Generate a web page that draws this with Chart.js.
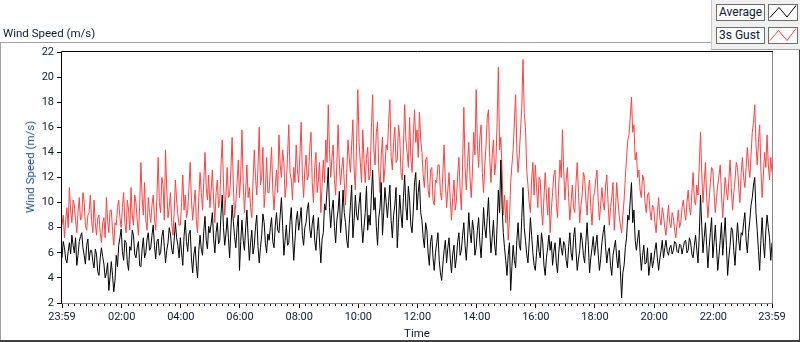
<!DOCTYPE html>
<html>
<head>
<meta charset="utf-8">
<title>Wind Speed</title>
<script src="https://cdn.jsdelivr.net/npm/chart.js@4.4.1/dist/chart.umd.min.js"></script>
<style>
  html, body { margin: 0; padding: 0; background: #fff; }
  #wrap { position: relative; width: 800px; height: 342px; overflow: hidden; font-family: Roboto, "Noto Sans", sans-serif; }
  #wrap canvas { position: absolute; left: 0; top: 0; }
  .chart-title { position: absolute; left: 3px; top: 26px; font-size: 11.5px; line-height: 14px; color: #0d1b33; }
  .y-title { position: absolute; left: 29.5px; top: 167px; font-size: 11.5px; line-height: 14px; color: #1f4f8f;
             white-space: nowrap; transform: translate(-50%, -50%) rotate(-90deg); }
  .rule { position: absolute; }
  .legend { position: absolute; left: 711px; top: 0; width: 89px; height: 50px; background: #f0f0f0;
            border-left: 1px solid #c8c8c8; border-bottom: 1px solid #a0a0a0; box-sizing: border-box; }
  .lg-text { position: absolute; left: 4px; width: 49px; height: 17px; box-sizing: border-box;
             border: 1px solid #6e6e6e; background: #fdfdfd; font-size: 12px; line-height: 15px;
             padding-left: 2px; color: #0d1b33; white-space: nowrap; }
  .lg-icon { position: absolute; left: 56px; width: 30px; height: 17px; box-sizing: border-box;
             border: 1px solid #6e6e6e; background: #fff; }
  .lg-icon svg { position: absolute; left: 0; top: 0; }
</style>
</head>
<body>
<div id="wrap">
  <canvas id="windChart" width="800" height="342"></canvas>
  <div class="chart-title">Wind Speed (m/s)</div>
  <div class="y-title">Wind Speed (m/s)</div>
  <div class="rule" style="left:0; top:42px; width:711px; height:1px; background:#a0a0a0;"></div>
  <div class="rule" style="left:0; top:42px; width:1px; height:300px; background:#a0a0a0;"></div>
  <div class="rule" style="left:0; top:340px; width:800px; height:2px; background:#404040;"></div>
  <div class="rule" style="left:799px; top:50px; width:1px; height:292px; background:#404040;"></div>
  <div class="legend">
    <div class="lg-text" style="top:4px;">Average</div>
    <div class="lg-icon" style="top:4px;">
      <svg width="28" height="15"><polyline points="1,12.5 10,2.5 18,12 27,0.5" fill="none" stroke="#000" stroke-width="1"/></svg>
    </div>
    <div class="lg-text" style="top:27px;">3s Gust</div>
    <div class="lg-icon" style="top:27px;">
      <svg width="28" height="15"><polyline points="1,12.5 9.5,2.5 18,12.5 27,0.5" fill="none" stroke="#ff4040" stroke-width="1"/></svg>
    </div>
  </div>
</div>

<script>
// ─── Data (one value every 2.5 minutes, starting 23:59) ──────────

const STEP_MIN = 2.5;

// Average wind speed, m/s – one row per hour
const avgSpeed = [
  5.6, 6.9, 6.4, 5.5, 5.2, 6.1, 6.8, 5.9, 7.4, 6.6, 6.0, 7.2, 5.0, 5.8, 6.9, 7.3, 7.6, 6.4, 5.8, 5.1, 6.6, 7.1, 5.4, 6.2,
  6.2, 5.3, 4.8, 6.3, 5.9, 4.5, 4.2, 5.6, 6.4, 5.7, 5.1, 4.0, 4.4, 5.2, 3.0, 4.1, 5.3, 4.2, 2.9, 3.8, 5.8, 4.9, 6.6, 7.2,
  7.9, 6.1, 5.4, 7.0, 6.8, 5.2, 4.6, 6.5, 6.2, 7.8, 7.4, 5.9, 5.6, 6.4, 6.9, 5.0, 4.9, 6.3, 7.2, 5.6, 6.0, 7.1, 7.6, 6.2,
  6.4, 7.4, 8.2, 6.6, 5.5, 6.9, 7.1, 5.8, 6.0, 7.3, 7.8, 6.5, 5.2, 6.2, 6.8, 8.0, 7.5, 6.3, 5.9, 7.0, 8.4, 7.2, 6.6, 5.6,
  7.2, 6.0, 5.0, 7.3, 8.6, 6.9, 6.1, 7.5, 7.8, 5.6, 4.4, 5.9, 6.5, 5.0, 4.0, 6.2, 7.4, 6.3, 5.8, 7.7, 8.9, 7.0, 6.3, 8.1,
  7.6, 8.3, 9.2, 7.1, 6.0, 7.6, 8.4, 6.7, 7.0, 9.1, 10.6, 8.0, 6.6, 7.5, 8.8, 7.2, 5.6, 7.8, 9.8, 8.5, 7.3, 6.4, 8.0, 9.0,
  4.6, 6.9, 8.6, 7.0, 6.2, 8.0, 9.4, 7.2, 5.4, 6.8, 7.8, 5.9, 6.6, 8.1, 9.0, 6.5, 5.2, 6.4, 7.4, 9.1, 8.4, 6.8, 6.0, 7.5,
  7.0, 8.0, 8.8, 6.9, 6.4, 8.1, 9.2, 7.8, 7.6, 9.0, 10.4, 8.2, 5.8, 7.0, 8.2, 6.6, 6.8, 8.5, 9.6, 7.4, 5.4, 7.0, 8.6, 9.3,
  7.8, 8.6, 9.6, 7.4, 6.6, 8.0, 8.4, 9.5, 10.0, 7.9, 7.2, 8.3, 9.0, 7.0, 6.2, 7.7, 8.8, 6.8, 5.2, 7.1, 7.6, 9.9, 9.4, 11.0,
  12.8, 9.6, 8.0, 9.4, 10.2, 8.1, 6.8, 8.6, 9.4, 10.9, 7.6, 8.8, 11.0, 9.2, 8.4, 7.0, 6.4, 8.3, 9.8, 11.4, 7.2, 8.6, 10.6, 9.0,
  8.6, 9.9, 10.8, 8.3, 6.8, 8.0, 9.2, 11.3, 7.8, 9.0, 8.2, 10.6, 12.6, 9.4, 10.4, 8.1, 6.6, 8.8, 9.6, 11.6, 7.4, 9.2, 11.2, 10.0,
  8.8, 10.1, 11.4, 8.6, 7.2, 9.0, 9.8, 11.2, 6.4, 8.4, 10.6, 9.1, 8.0, 10.4, 12.2, 9.6, 8.6, 11.3, 10.2, 8.2, 7.6, 9.4, 11.6, 12.4,
  9.4, 10.8, 11.8, 9.2, 8.6, 7.2, 6.4, 8.4, 7.8, 6.0, 5.0, 6.9, 7.4, 5.6, 4.6, 6.0, 6.8, 7.6, 5.4, 4.4, 3.8, 5.1, 6.2, 7.0,
  5.2, 6.4, 7.2, 5.5, 4.4, 5.9, 6.6, 4.8, 5.6, 6.9, 7.6, 5.8, 6.2, 7.4, 8.4, 6.6, 5.4, 7.1, 9.2, 7.6, 6.8, 8.6, 7.8, 5.8,
  6.4, 7.8, 8.8, 6.8, 5.6, 7.4, 9.6, 8.0, 7.2, 8.8, 10.4, 7.9, 6.0, 7.2, 8.6, 6.6, 5.8, 8.2, 11.0, 9.2, 13.4, 9.8, 7.6, 6.4,
  5.4, 4.2, 5.8, 6.8, 3.0, 4.9, 6.6, 5.4, 4.8, 7.0, 8.4, 6.6, 6.2, 8.8, 11.2, 8.0, 7.0, 5.9, 5.2, 6.8, 8.8, 7.4, 6.0, 5.0,
  4.6, 6.0, 7.4, 6.1, 5.6, 7.6, 6.8, 5.0, 4.2, 5.6, 6.4, 7.4, 6.2, 6.9, 5.0, 6.1, 6.8, 5.2, 4.4, 6.0, 7.2, 6.4, 5.8, 6.9,
  6.6, 5.4, 4.8, 6.5, 7.6, 6.0, 5.4, 7.2, 8.0, 6.2, 4.6, 5.5, 6.2, 7.6, 7.0, 5.8, 5.2, 6.9, 8.4, 6.6, 4.4, 5.6, 6.4, 7.3,
  5.8, 6.6, 7.4, 5.9, 4.6, 5.5, 6.8, 7.6, 8.2, 6.4, 5.2, 6.1, 6.4, 5.0, 4.2, 5.8, 6.4, 7.0, 5.6, 4.8, 6.2, 4.6, 2.4, 4.4,
  5.0, 6.4, 7.2, 9.0, 8.6, 10.2, 11.6, 8.4, 9.4, 7.0, 6.2, 7.1, 7.8, 6.0, 4.6, 5.8, 6.6, 5.1, 5.2, 6.4, 4.2, 5.0, 6.0, 4.8,
  5.4, 6.2, 6.8, 5.6, 4.6, 5.5, 6.2, 7.0, 5.6, 6.4, 7.0, 6.1, 5.8, 6.4, 6.6, 5.9, 6.2, 6.9, 6.8, 6.1, 6.0, 6.7, 6.6, 5.9,
  6.4, 6.9, 7.0, 6.0, 6.2, 7.2, 6.8, 5.9, 5.6, 6.6, 7.4, 6.2, 5.2, 7.4, 10.6, 8.2, 6.0, 7.2, 8.4, 6.6, 4.8, 6.4, 7.6, 8.8,
  5.6, 6.8, 8.2, 6.4, 4.6, 5.8, 7.0, 8.4, 5.8, 7.2, 8.8, 6.6, 4.2, 5.6, 6.6, 8.0, 7.8, 6.2, 5.0, 6.8, 8.4, 7.0, 6.2, 7.6,
  7.4, 8.4, 9.2, 7.0, 6.0, 7.6, 8.6, 9.8, 10.4, 11.4, 12.0, 9.2, 7.8, 6.2, 4.6, 7.0, 8.8, 6.8, 5.6, 7.8, 9.0, 8.0, 7.2, 5.4,
  6.8
];

// 3 second gust, m/s – one row per hour
const gustSpeed = [
  8.2, 9.0, 7.2, 8.6, 9.6, 8.0, 11.2, 9.4, 8.4, 10.2, 9.8, 8.6, 7.6, 9.2, 10.4, 8.6, 8.8, 10.8, 10.0, 8.2, 7.8, 9.0, 9.2, 10.6,
  8.6, 7.6, 10.2, 8.4, 7.4, 8.8, 9.0, 7.6, 6.8, 8.4, 8.8, 7.2, 10.4, 8.6, 7.6, 9.4, 9.4, 7.8, 6.6, 8.4, 8.2, 9.6, 10.2, 8.8,
  8.0, 9.6, 10.8, 8.4, 7.6, 10.2, 9.4, 7.8, 11.2, 9.0, 8.2, 10.6, 10.0, 8.6, 7.4, 9.8, 13.2, 10.4, 9.0, 11.6, 8.6, 7.8, 10.4, 9.2,
  8.4, 9.8, 10.6, 8.8, 7.8, 10.4, 13.6, 10.0, 9.2, 12.0, 11.4, 8.6, 14.2, 11.0, 8.8, 9.6, 10.8, 8.4, 7.4, 9.2, 11.8, 10.2, 9.0, 8.2,
  8.2, 10.0, 12.2, 9.4, 10.6, 8.8, 9.4, 11.2, 13.2, 10.2, 8.6, 9.8, 11.0, 8.6, 7.6, 10.4, 12.4, 10.8, 9.4, 11.6, 14.0, 11.2, 10.2, 12.2,
  9.6, 11.0, 12.6, 10.2, 8.4, 10.8, 11.8, 9.6, 10.2, 13.0, 15.0, 11.6, 9.0, 10.6, 12.8, 10.4, 10.6, 12.6, 15.2, 11.4, 8.8, 10.0, 11.6, 13.4,
  10.4, 12.2, 15.8, 11.6, 9.2, 11.0, 13.0, 10.4, 11.2, 9.6, 8.8, 11.8, 14.2, 12.0, 10.6, 12.8, 16.0, 11.4, 12.0, 14.4, 9.6, 11.0, 13.6, 10.8,
  10.8, 12.6, 14.4, 11.0, 9.4, 11.2, 12.6, 10.8, 15.4, 13.0, 12.0, 14.2, 13.2, 10.4, 11.4, 13.8, 16.2, 12.4, 11.8, 10.2, 12.8, 11.6, 14.6, 12.6,
  11.6, 13.8, 16.4, 12.2, 10.4, 12.6, 13.8, 11.8, 12.2, 14.4, 15.6, 11.6, 10.0, 12.8, 14.0, 10.8, 11.8, 13.2, 9.2, 11.4, 13.4, 11.6, 15.0, 13.2,
  17.8, 14.2, 12.0, 13.6, 14.6, 11.8, 10.6, 13.2, 16.2, 13.0, 11.4, 12.8, 13.6, 11.6, 9.8, 12.4, 15.0, 13.6, 12.4, 14.6, 16.6, 12.6, 11.0, 14.8,
  19.0, 14.8, 13.2, 11.6, 15.8, 13.4, 11.6, 13.6, 14.4, 11.8, 12.2, 16.0, 18.6, 14.2, 13.0, 15.6, 16.4, 12.6, 10.8, 13.8, 15.2, 11.6, 12.8, 14.6,
  14.2, 16.4, 18.2, 13.6, 12.6, 14.8, 16.0, 13.2, 13.4, 16.2, 15.2, 12.4, 11.8, 14.6, 17.8, 15.0, 14.0, 12.8, 16.8, 13.6, 12.4, 15.4, 17.4, 14.8,
  15.8, 13.6, 17.2, 15.0, 14.0, 12.2, 11.2, 13.4, 13.6, 11.0, 10.4, 12.6, 12.8, 10.2, 9.8, 11.8, 11.6, 13.0, 13.0, 10.8, 10.2, 12.4, 14.6, 11.6,
  9.6, 11.0, 12.4, 10.2, 8.6, 10.4, 11.8, 9.4, 10.2, 12.2, 13.6, 11.0, 9.4, 13.0, 17.6, 12.8, 11.0, 13.2, 14.8, 12.0, 10.4, 12.6, 15.6, 13.8,
  19.0, 14.6, 12.8, 15.2, 16.2, 12.4, 10.8, 13.0, 14.6, 16.8, 17.4, 13.6, 11.6, 13.8, 15.0, 12.2, 13.2, 16.4, 20.8, 14.2, 15.2, 12.6, 9.0, 10.6,
  8.4, 10.2, 7.0, 8.6, 11.6, 13.0, 14.2, 16.4, 18.6, 14.0, 12.4, 13.8, 15.8, 17.6, 21.4, 17.2, 16.0, 12.6, 11.4, 10.0, 9.2, 11.8, 13.2, 10.6,
  13.0, 11.2, 9.6, 12.0, 11.8, 9.4, 8.2, 10.4, 12.4, 10.6, 9.0, 11.2, 7.6, 9.4, 10.8, 12.2, 12.6, 10.0, 8.8, 11.4, 13.4, 12.0, 15.8, 12.6,
  10.2, 11.8, 12.8, 10.4, 8.6, 10.0, 11.4, 9.6, 9.2, 11.6, 13.2, 10.8, 8.4, 9.8, 10.6, 12.4, 12.0, 10.2, 9.0, 11.0, 11.8, 9.6, 8.2, 10.4,
  10.8, 11.8, 12.6, 10.2, 8.6, 9.8, 11.2, 10.0, 9.4, 11.4, 12.2, 10.0, 8.2, 9.6, 10.4, 11.6, 7.8, 9.4, 11.6, 10.2, 9.0, 8.2, 7.6, 9.0,
  10.2, 12.0, 13.6, 15.0, 15.4, 16.8, 18.4, 15.6, 16.2, 13.4, 14.0, 12.0, 12.6, 11.0, 10.4, 12.2, 11.8, 10.0, 9.2, 10.6, 10.8, 9.4, 8.6, 9.8,
  9.6, 8.4, 7.6, 9.2, 10.4, 8.8, 8.2, 9.6, 9.0, 8.0, 7.4, 8.6, 9.8, 8.4, 8.0, 9.2, 8.8, 7.8, 7.2, 8.4, 9.4, 8.0, 8.4, 9.6,
  10.2, 9.2, 8.6, 10.0, 11.0, 9.6, 9.0, 10.8, 12.4, 10.2, 9.8, 11.4, 10.6, 13.0, 15.6, 12.4, 10.0, 11.6, 13.2, 10.4, 8.8, 10.2, 11.6, 12.8,
  12.6, 10.8, 9.2, 10.4, 11.4, 12.2, 13.0, 10.6, 8.8, 10.4, 12.0, 11.0, 10.2, 11.8, 13.4, 11.2, 9.4, 10.8, 11.8, 13.2, 12.8, 11.2, 10.0, 12.4,
  13.6, 12.0, 11.2, 12.8, 14.4, 13.0, 12.0, 13.8, 15.6, 16.4, 17.8, 14.6, 13.0, 14.8, 16.2, 12.6, 10.4, 12.2, 14.0, 12.8, 15.4, 13.0, 11.8, 13.6,
  12.4
];

// x axis: minutes since 23:59
const tickMinutes = [0, 121, 241, 361, 481, 601, 721, 841, 961, 1081, 1201, 1321, 1440];
const tickLabels = ['23:59', '02:00', '04:00', '06:00', '08:00', '10:00', '12:00',
                    '14:00', '16:00', '18:00', '20:00', '22:00', '23:59'];
const yTicks = [2, 4, 6, 8, 10, 12, 14, 16, 18, 20, 22];

// ─── Plugins ─────────────────────────────────────────────────────

// small 12-minute ticks between the labelled ones
const minorTicks = {
  id: 'minorTicks',
  afterDraw(chart) {
    const { ctx, chartArea: a } = chart;
    const xs = chart.scales.x;
    ctx.save();
    ctx.strokeStyle = '#000';
    ctx.lineWidth = 1;
    ctx.beginPath();
    for (let m = 13; m < 1440; m += 12) {
      if ((m - 1) % 120 === 0) continue;
      const px = Math.round(xs.getPixelForValue(m)) + 0.5;
      ctx.moveTo(px, a.bottom);
      ctx.lineTo(px, a.bottom + 3);
    }
    ctx.stroke();
    ctx.restore();
  }
};

// sunken plot frame: dark top/left, grey bottom/right
const plotFrame = {
  id: 'plotFrame',
  afterDraw(chart) {
    const { ctx, chartArea: a } = chart;
    ctx.save();
    ctx.lineWidth = 1;
    ctx.strokeStyle = '#8c8c8c';
    ctx.beginPath();
    ctx.moveTo(Math.round(a.right) + 0.5, Math.round(a.top));
    ctx.lineTo(Math.round(a.right) + 0.5, Math.round(a.bottom) + 0.5);
    ctx.lineTo(Math.round(a.left), Math.round(a.bottom) + 0.5);
    ctx.stroke();
    ctx.strokeStyle = '#000';
    ctx.beginPath();
    ctx.moveTo(Math.round(a.left) - 0.5, Math.round(a.bottom));
    ctx.lineTo(Math.round(a.left) - 0.5, Math.round(a.top) - 0.5);
    ctx.lineTo(Math.round(a.right) + 1, Math.round(a.top) - 0.5);
    ctx.stroke();
    ctx.restore();
  }
};

// ─── Chart ───────────────────────────────────────────────────────

const toPoints = arr => arr.map((v, i) => ({ x: i * STEP_MIN, y: v }));
const tickFont = { family: 'Roboto, "Noto Sans", sans-serif', size: 11 };
const tickColor = '#0d1b33';

new Chart(document.getElementById('windChart'), {
  type: 'line',
  data: {
    datasets: [
      {
        label: 'Average',
        data: toPoints(avgSpeed),
        borderColor: '#000000',
        borderWidth: 1,
        pointRadius: 0,
        tension: 0,
        order: 0
      },
      {
        label: '3s Gust',
        data: toPoints(gustSpeed),
        borderColor: '#ff4040',
        borderWidth: 1,
        pointRadius: 0,
        tension: 0,
        order: 1
      }
    ]
  },
  options: {
    responsive: false,
    animation: false,
    events: [],
    layout: { padding: { top: 52, right: 28, left: 0, bottom: 0 } },
    plugins: {
      legend: { display: false },
      tooltip: { enabled: false }
    },
    scales: {
      x: {
        type: 'linear',
        min: 0,
        max: 1440,
        afterFit: s => { s.height = 39; },
        afterBuildTicks: s => { s.ticks = tickMinutes.map(v => ({ value: v })); },
        ticks: {
          autoSkip: false,
          maxRotation: 0,
          padding: 3,
          color: tickColor,
          font: tickFont,
          callback: (v) => tickLabels[tickMinutes.indexOf(v)]
        },
        grid: { drawOnChartArea: false, tickLength: 5, color: '#000' },
        border: { display: false },
        title: {
          display: true,
          text: 'Time',
          color: tickColor,
          font: { family: tickFont.family, size: 11.5 },
          padding: { top: 0, bottom: 1 }
        }
      },
      y: {
        min: 2,
        max: 22,
        afterFit: s => { s.width = 62; },
        afterBuildTicks: s => { s.ticks = yTicks.map(v => ({ value: v })); },
        ticks: { padding: 3, color: tickColor, font: tickFont },
        grid: { drawOnChartArea: false, tickLength: 5, color: '#000' },
        border: { display: false },
        title: { display: false }
      }
    }
  },
  plugins: [minorTicks, plotFrame]
});
</script>
</body>
</html>
